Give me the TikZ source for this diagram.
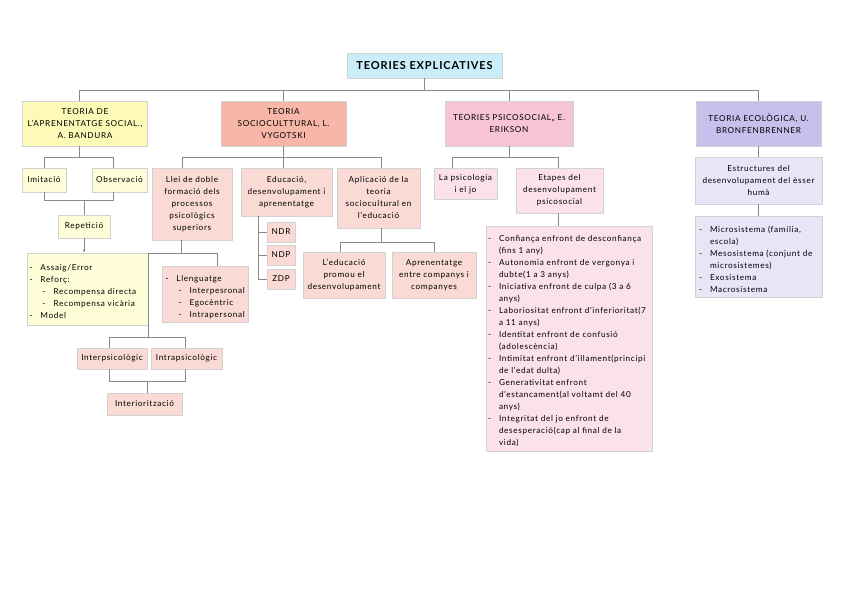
\documentclass[tikz,border=0pt]{standalone}
\usepackage{fontspec}
\setmainfont[LetterSpace=8]{Lato}
\usetikzlibrary{positioning,arrows.meta}
\definecolor{boxline}{HTML}{D2D2D2}
\definecolor{linkgray}{HTML}{8A8A8A}
\definecolor{titlefill}{HTML}{C9EEFA}
\definecolor{yellowhead}{HTML}{FCFAB6}
\definecolor{yellowsub}{HTML}{FEFDD8}
\definecolor{salmonhead}{HTML}{F7B6A8}
\definecolor{salmonsub}{HTML}{F9DAD4}
\definecolor{pinkhead}{HTML}{F7C4D6}
\definecolor{pinksub}{HTML}{FBE1EA}
\definecolor{lilachead}{HTML}{C7BFEC}
\definecolor{lilacsub}{HTML}{E8E5F7}
\newcommand{\boxfont}{\fontsize{8.2}{12}\selectfont}
\newcommand{\listfont}{\fontsize{8.2}{12}\selectfont\hyphenpenalty=10000\tolerance=10000}
\newcommand{\titlefont}{\fontsize{11}{12}\selectfont\bfseries}
\newcommand{\bitem}[1]{\par\hangindent=11pt\hangafter=1\noindent\makebox[11pt][l]{-}#1}
\newcommand{\bsub}[1]{\par\hangindent=24pt\hangafter=1\noindent\hspace{13pt}\makebox[11pt][l]{-}#1}

\begin{document}
\begin{tikzpicture}[
  x=1pt, y=-1pt,
  box/.style={draw=boxline, line width=0.6pt, align=center, inner sep=2pt, font=\boxfont},
  listbox/.style={box, align=left, inner ysep=3pt, font=\listfont},
  link/.style={draw=linkgray, line width=0.8pt},
  arr/.style={link, -{Latex[length=3pt, width=3pt]}}
]
  \useasboundingbox (0,0) rectangle (848,599);

  \node[box, fill=titlefill, minimum width=155, minimum height=25, font=\titlefont] (titol) at (424.5,65.5) {TEORIES EXPLICATIVES};

  \node[box, fill=yellowhead, minimum width=125, minimum height=45] (bandura) at (85,123.5)
    {TEORIA DE\\L'APRENENTATGE SOCIAL.,\\A. BANDURA};
  \node[box, fill=salmonhead, minimum width=125, minimum height=45] (vygotsky) at (283.5,123.5)
    {TEORIA\\SOCIOCULTTURAL, L.\\VYGOTSKI};
  \node[box, fill=pinkhead, minimum width=128, minimum height=45] (erikson) at (509,123.5)
    {TEORIES PSICOSOCIAL,, E.\\ERIKSON};
  \node[box, fill=lilachead, minimum width=125, minimum height=45] (bronf) at (758.5,123.5)
    {TEORIA ECOLÒGICA, U.\\BRONFENBRENNER};

  % Bandura
  \node[box, fill=yellowsub, minimum width=44, minimum height=24] (imitacio) at (44,180) {Imitació};
  \node[box, fill=yellowsub, minimum width=55, minimum height=24] (observacio) at (119.5,180) {Observació};
  \node[box, fill=yellowsub, minimum width=52, minimum height=23] (repeticio) at (84,226.5) {Repetició};
  \node[listbox, fill=yellowsub, inner xsep=2.5pt, text width=116, minimum height=72] (bandlist) at (87.5,289) {%
    \bitem{Assaig/Error}
    \bitem{Reforç:}
    \bsub{Recompensa directa}
    \bsub{Recompensa vicària}
    \bitem{Model}\par};

  % Vygotsky
  \node[box, fill=salmonsub, minimum width=80, minimum height=72] (llei) at (192,204)
    {Llei de doble\\formació dels\\processos\\psicològics\\superiors};
  \node[box, fill=salmonsub, minimum width=91, minimum height=48] (educacio) at (286.5,192)
    {Educació,\\desenvolupament i\\aprenentatge};
  \node[box, fill=salmonsub, minimum width=83, minimum height=60] (aplicacio) at (378.5,198)
    {Aplicació de la\\teoria\\sociocultural en\\l'educació};
  \node[box, fill=salmonsub, minimum width=28, minimum height=20] (ndr) at (281,232) {NDR};
  \node[box, fill=salmonsub, minimum width=28, minimum height=20] (ndp) at (281,255) {NDP};
  \node[box, fill=salmonsub, minimum width=28, minimum height=20] (zdp) at (281,279) {ZDP};
  \node[box, fill=salmonsub, minimum width=82, minimum height=46] (promou) at (344,275.5)
    {L'educació\\promou el\\desenvolupament};
  \node[box, fill=salmonsub, minimum width=84, minimum height=46] (companys) at (434,275.5)
    {Aprenentatge\\entre companys i\\companyes};
  \node[listbox, fill=salmonsub, inner xsep=3.5pt, text width=79, minimum height=56] (llenguatge) at (205,294) {%
    \bitem{Llenguatge}
    \bsub{Interpesronal}
    \bsub{Egocèntric}
    \bsub{Intrapersonal}\par};
  \node[box, fill=salmonsub, minimum width=70, minimum height=21] (interpsico) at (112,358.5) {Interpsicològic};
  \node[box, fill=salmonsub, minimum width=71, minimum height=21] (intrapsico) at (186.5,358.5) {Intrapsicològic};
  \node[box, fill=salmonsub, minimum width=75, minimum height=22] (interioritzacio) at (144.5,404) {Interiorització};

  % Erikson
  \node[box, fill=pinksub, minimum width=63, minimum height=31] (psicojo) at (465.5,184) {La psicologia\\i el jo};
  \node[box, fill=pinksub, minimum width=87, minimum height=45] (etapes) at (559.5,190.5)
    {Etapes del\\desenvolupament\\psicosocial};
  \node[listbox, fill=pinksub, inner xsep=2pt, text width=162, minimum height=225] (eriklist) at (569,338.5) {%
    \bitem{Confiança enfront de desconfiança\newline(fins 1 any)}
    \bitem{Autonomia enfront de vergonya i\newline dubte(1 a 3 anys)}
    \bitem{Iniciativa enfront de culpa (3 a 6\newline anys)}
    \bitem{Laboriositat enfront d'inferioritat(7\newline a 11 anys)}
    \bitem{Identitat enfront de confusió\newline(adolescència)}
    \bitem{Intimitat enfront d'illament(principi\newline de l'edat dulta)}
    \bitem{Generativitat enfront\newline d'estancament(al voltamt del 40\newline anys)}
    \bitem{Integritat del jo enfront de\newline desesperació(cap al final de la\newline vida)}\par};

  % Bronfenbrenner
  \node[box, fill=lilacsub, minimum width=127, minimum height=47] (estructures) at (758.5,180.5)
    {Estructures del\\desenvolupament del èsser\\humà};
  \node[listbox, fill=lilacsub, inner xsep=4pt, text width=119, minimum height=81] (bronlist) at (758.5,256.5) {%
    \bitem{Microsistema (família,\newline escola)}
    \bitem{Mesosistema (conjunt de\newline microsistemes)}
    \bitem{Exosistema}
    \bitem{Macrosistema}\par};

  % connectors
  \draw[link] (titol.south) -- ++(0,12) coordinate (topbar);
  \draw[link] (topbar) -| ([xshift=-6]bandura.north);
  \draw[link] (topbar) -| (vygotsky.north);
  \draw[link] (topbar) -| (erikson.north);
  \draw[link] (topbar) -| (bronf.north);

  \draw[link] ([xshift=-6]bandura.south) -- ++(0,11) coordinate (bandbar);
  \draw[link] (bandbar) -| (imitacio.north);
  \draw[link] (bandbar) -| ([xshift=-6]observacio.north);
  \draw[link] (imitacio.south) -- ++(0,8) -| ([xshift=-6]observacio.south);
  \draw[link] (repeticio.north) -- ++(0,-15);
  \draw[arr] (repeticio.south) -- (repeticio.south |- bandlist.north);

  \draw[link] (vygotsky.south) -- ++(0,11) coordinate (vygbar);
  \draw[link] (vygbar) -| ([xshift=-10]llei.north);
  \draw[link] (vygbar) -| ([xshift=-3.5]educacio.north);
  \draw[link] (vygbar) -| ([xshift=2.5]aplicacio.north);
  \foreach \n in {ndr,ndp,zdp}
    \draw[link] ([xshift=-28.5]educacio.south) |- (\n.west);
  \draw[link] ([xshift=2.5]aplicacio.south) -- ++(0,14) coordinate (aplbar);
  \draw[link] (aplbar) -| ([xshift=-4]promou.north);
  \draw[link] (aplbar) -| (companys.north);

  \draw[link] ([xshift=-11]llei.south) -- ++(0,13) coordinate (lleibar);
  \draw[link] (lleibar) -| ([xshift=12]llenguatge.north);
  \coordinate (psicobar) at (148,337);
  \draw[link] (lleibar) -| (psicobar);
  \draw[link] (psicobar) -| ([xshift=-3]interpsico.north);
  \draw[link] (psicobar) -| ([xshift=-1.5]intrapsico.north);
  \draw[link] ([xshift=-3]interpsico.south) -- ++(0,12) -| ([xshift=-1.5]intrapsico.south);
  \draw[link] ([xshift=2.5]interioritzacio.north) -- ++(0,-12);

  \draw[link] (erikson.south) -- ++(0,11) coordinate (erikbar);
  \draw[link] (erikbar) -| ([xshift=-13]psicojo.north);
  \draw[link] (erikbar) -| ([xshift=-1.5]etapes.north);
  \draw[link] ([xshift=-1.5]etapes.south) -- ([xshift=-1.5]etapes.south |- eriklist.north);

  \draw[link] (bronf.south) -- (estructures.north);
  \draw[link] (estructures.south) -- (bronlist.north);
\end{tikzpicture}
\end{document}
